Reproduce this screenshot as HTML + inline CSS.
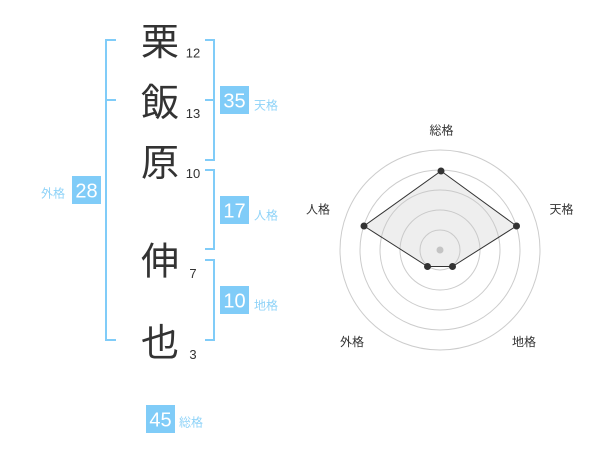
<!DOCTYPE html>
<html>
<head>
<meta charset="utf-8">
<style>
  html, body { margin: 0; padding: 0; background: #fff; }
  svg { display: block; }
</style>
</head>
<body>
<svg width="600" height="470" viewBox="0 0 600 470" xmlns="http://www.w3.org/2000/svg">
  <!-- brackets -->
  <g fill="none" stroke="#80ccf8" stroke-width="2">
    <path d="M116,40 H106 V340 H116"/>
    <path d="M106,100 H116"/>
    <path d="M205,40 H214 V160 H205"/>
    <path d="M205,100 H214"/>
    <path d="M205,170 H214 V249 H205"/>
    <path d="M205,260 H214 V340 H205"/>
  </g>

  <!-- name characters -->
  <g font-family="'Liberation Sans','Noto Sans CJK JP',sans-serif" font-size="38" fill="#333" text-anchor="middle">
    <text x="160" y="55">栗</text>
    <text x="160" y="116">飯</text>
    <text x="160" y="176">原</text>
    <text x="160" y="274.5">伸</text>
    <text x="160" y="356">也</text>
  </g>

  <!-- stroke counts -->
  <g font-family="'Liberation Sans',sans-serif" font-size="13" fill="#333" text-anchor="middle">
    <text x="193" y="57.7">12</text>
    <text x="193" y="118">13</text>
    <text x="193" y="178">10</text>
    <text x="193" y="278">7</text>
    <text x="193" y="359">3</text>
  </g>

  <!-- boxes -->
  <g fill="#80ccf8">
    <rect x="220" y="86" width="29" height="28"/>
    <rect x="220" y="196" width="29" height="28"/>
    <rect x="220" y="286" width="29" height="28"/>
    <rect x="72" y="176" width="29" height="28"/>
    <rect x="146" y="405" width="29" height="28"/>
  </g>
  <g font-family="'Liberation Sans',sans-serif" font-size="20" fill="#fff" text-anchor="middle">
    <text x="234.5" y="107.3">35</text>
    <text x="234.5" y="217.3">17</text>
    <text x="234.5" y="307.3">10</text>
    <text x="86.5" y="197.3">28</text>
    <text x="160.5" y="426.3">45</text>
  </g>

  <!-- box labels -->
  <g font-family="'Liberation Sans','Noto Sans CJK JP',sans-serif" font-size="12" fill="#8fd3f8" text-anchor="middle">
    <text x="266" y="109.5">天格</text>
    <text x="266" y="219.5">人格</text>
    <text x="266" y="309.5">地格</text>
    <text x="53" y="197.5">外格</text>
    <text x="191" y="426.5">総格</text>
  </g>

  <!-- radar -->
  <g fill="none" stroke="#cccccc" stroke-width="1">
    <circle cx="440" cy="250" r="20"/>
    <circle cx="440" cy="250" r="40"/>
    <circle cx="440" cy="250" r="60"/>
    <circle cx="440" cy="250" r="80"/>
    <circle cx="440" cy="250" r="100"/>
  </g>
  <polygon points="441,171 516.5,226 452.5,266.5 427.5,266.5 364,226" fill="rgba(200,200,200,0.3)" stroke="#333" stroke-width="1"/>
  <circle cx="440" cy="250" r="3.5" fill="#c4c4c4"/>
  <g fill="#333">
    <circle cx="441" cy="171" r="3.5"/>
    <circle cx="516.5" cy="226" r="3.5"/>
    <circle cx="452.5" cy="266.5" r="3.5"/>
    <circle cx="427.5" cy="266.5" r="3.5"/>
    <circle cx="364" cy="226" r="3.5"/>
  </g>
  <g font-family="'Liberation Sans','Noto Sans CJK JP',sans-serif" font-size="12" fill="#333" text-anchor="middle">
    <text x="441.5" y="134.5">総格</text>
    <text x="561.5" y="213.5">天格</text>
    <text x="524" y="346">地格</text>
    <text x="352" y="346">外格</text>
    <text x="318" y="213.5">人格</text>
  </g>
</svg>
</body>
</html>
